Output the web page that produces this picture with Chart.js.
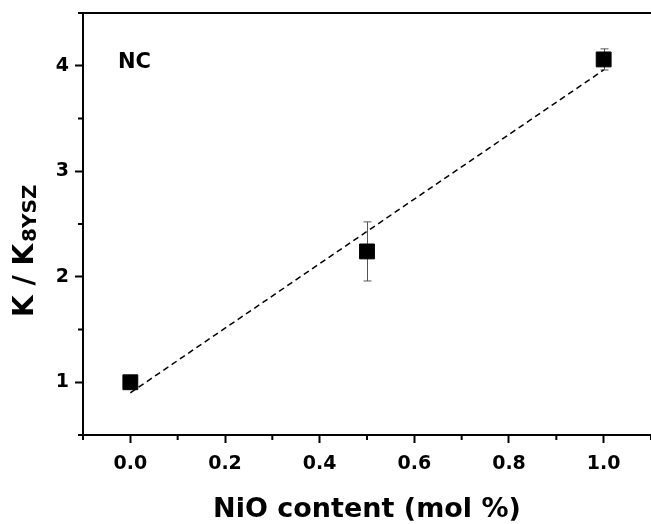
<!DOCTYPE html>
<html>
<head>
<meta charset="utf-8">
<script src="https://cdn.jsdelivr.net/npm/chart.js@4.4.0/dist/chart.umd.min.js"></script>
<style>
	html, body {margin: 0; padding: 0; background: #fff;}
	#wrap {width: 651px; height: 524px;}
</style>
</head>
<body>
<div id="wrap"><canvas id="chart" width="651" height="524"></canvas></div>
<script>
'use strict';

//measured points
const nioContent = [0, 0.5, 1.0];
const kRatio = [1.0, 2.24, 4.06];
const kError = [0, 0.28, 0.1];

//linear fit line end points
const fitX = [0, 1.0];
const fitY = [0.9, 3.96];

//axis ticks
const xMajor = [0, 0.2, 0.4, 0.6, 0.8, 1.0];
const xMinor = [-0.1, 0.1, 0.3, 0.5, 0.7, 0.9, 1.1];
const yMajor = [1, 2, 3, 4];
const yMinor = [0.5, 1.5, 2.5, 3.5, 4.5];

const FONT = '"DejaVu Sans", "Liberation Sans", Arial, sans-serif';

const plugins = [
	{
		id: 'errorBars',
		beforeDatasetsDraw: (chart) => {
			const {ctx, scales: {x, y}} = chart;
			ctx.save();
			ctx.strokeStyle = '#555';
			ctx.lineWidth = 1;
			for (let idx = 0; idx < nioContent.length; ++idx) {
				if (!kError[idx]) {
					continue;
				}
				const px = Math.round(x.getPixelForValue(nioContent[idx])) + 0.5;
				const top = y.getPixelForValue(kRatio[idx] + kError[idx]);
				const bot = y.getPixelForValue(kRatio[idx] - kError[idx]);
				ctx.beginPath();
				ctx.moveTo(px, top);
				ctx.lineTo(px, bot);
				ctx.moveTo(px - 4, top);
				ctx.lineTo(px + 4, top);
				ctx.moveTo(px - 4, bot);
				ctx.lineTo(px + 4, bot);
				ctx.stroke();
			}
			ctx.restore();
		}
	},
	{
		id: 'frameAndText',
		afterDraw: (chart) => {
			const {ctx, chartArea, scales: {x, y}} = chart;
			ctx.save();
			ctx.strokeStyle = '#000';
			ctx.lineWidth = 2;
			
			//top frame line, right side runs off the picture
			ctx.beginPath();
			ctx.moveTo(chartArea.left - 1, chartArea.top);
			ctx.lineTo(chart.width, chartArea.top);
			ctx.stroke();
			
			//minor ticks
			ctx.beginPath();
			for (const v of xMinor) {
				const px = x.getPixelForValue(v);
				ctx.moveTo(px, chartArea.bottom);
				ctx.lineTo(px, chartArea.bottom + 5);
			}
			for (const v of yMinor) {
				const py = y.getPixelForValue(v);
				ctx.moveTo(chartArea.left, py);
				ctx.lineTo(chartArea.left - 5, py);
			}
			ctx.stroke();
			
			ctx.fillStyle = '#000';
			
			//panel label
			ctx.font = 'bold 21px ' + FONT;
			ctx.textAlign = 'left';
			ctx.textBaseline = 'alphabetic';
			ctx.fillText('NC', 118, 68);
			
			//x axis title
			ctx.font = 'bold 27px ' + FONT;
			ctx.textAlign = 'center';
			ctx.fillText('NiO content (mol %)', (chartArea.left + chart.width) / 2, 517);
			
			//y axis title with subscript
			ctx.translate(33, 317);
			ctx.rotate(-Math.PI / 2);
			ctx.textAlign = 'left';
			ctx.font = 'bold 28px ' + FONT;
			const main = 'K / K';
			ctx.fillText(main, 0, 0);
			const w = ctx.measureText(main).width;
			ctx.font = 'bold 20px ' + FONT;
			ctx.fillText('8YSZ', w + 2, 3);
			
			ctx.restore();
		}
	}
];

new Chart(document.getElementById('chart'), {
	type: 'scatter',
	data: {
		datasets: [
			{
				label: 'NC',
				data: nioContent.map((v, idx) => ({x: v, y: kRatio[idx]})),
				pointStyle: 'rect',
				pointRadius: 10.5,
				backgroundColor: '#000',
				borderColor: '#000',
				borderWidth: 1,
				order: 0
			},
			{
				label: 'fit',
				data: fitX.map((v, idx) => ({x: v, y: fitY[idx]})),
				showLine: true,
				borderColor: '#000',
				borderWidth: 1.5,
				borderDash: [6, 4],
				pointRadius: 0,
				order: 1
			}
		]
	},
	options: {
		responsive: false,
		devicePixelRatio: 1,
		animation: false,
		layout: {
			autoPadding: false,
			padding: {top: 13, right: 0, bottom: 0, left: 0}
		},
		plugins: {
			legend: {display: false},
			tooltip: {enabled: false}
		},
		scales: {
			x: {
				type: 'linear',
				min: -0.1,
				max: 1.1,
				afterBuildTicks: scale => {
					scale.ticks = xMajor.map(v => ({value: v}));
				},
				afterFit: scale => {
					scale.height = 89;
					scale.paddingLeft = 0;
					scale.paddingRight = 0;
				},
				ticks: {
					color: '#000',
					font: {family: FONT, size: 19, weight: 'bold'},
					padding: 10,
					maxRotation: 0,
					callback: v => Number(v).toFixed(1)
				},
				grid: {
					display: true,
					drawOnChartArea: false,
					drawTicks: true,
					tickLength: 8,
					tickWidth: 2,
					tickColor: '#000'
				},
				border: {display: true, color: '#000', width: 2}
			},
			y: {
				type: 'linear',
				min: 0.5,
				max: 4.5,
				afterBuildTicks: scale => {
					scale.ticks = yMajor.map(v => ({value: v}));
				},
				afterFit: scale => {
					scale.width = 83;
					scale.paddingTop = 0;
					scale.paddingBottom = 0;
				},
				ticks: {
					color: '#000',
					font: {family: FONT, size: 19, weight: 'bold'},
					padding: 6,
					callback: v => String(v)
				},
				grid: {
					display: true,
					drawOnChartArea: false,
					drawTicks: true,
					tickLength: 8,
					tickWidth: 2,
					tickColor: '#000'
				},
				border: {display: true, color: '#000', width: 2}
			}
		}
	},
	plugins: plugins
});
</script>
</body>
</html>
